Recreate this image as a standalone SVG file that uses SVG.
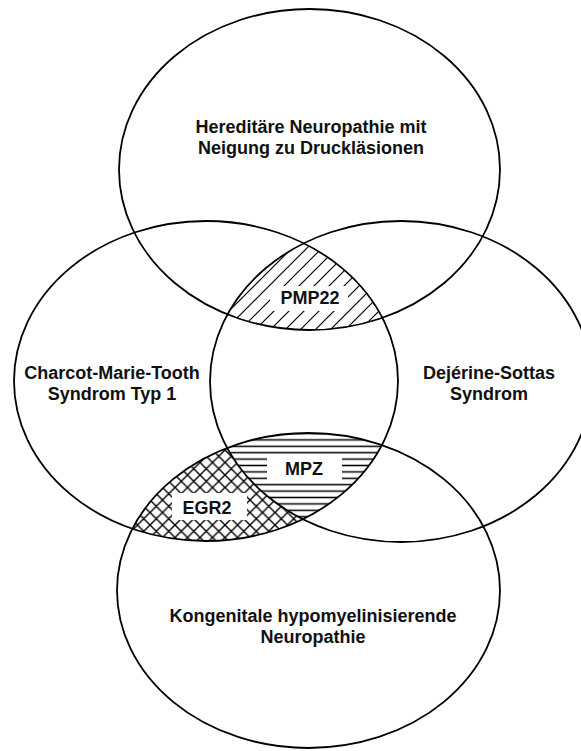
<svg xmlns="http://www.w3.org/2000/svg" width="581" height="751" viewBox="0 0 581 751">
<style>
.ring{fill:none;stroke:#000;stroke-width:1.8}
.lbl{font-family:"Liberation Sans",Arial,Helvetica,sans-serif;font-weight:bold;font-size:18px;fill:#111;text-anchor:middle}
.knock{fill:#fff;stroke:none}
</style>
<defs>
<clipPath id="cTop"><ellipse cx="309.5" cy="169.5" rx="190.5" ry="160.5"/></clipPath>
<clipPath id="cLeft"><ellipse cx="206" cy="381" rx="192" ry="160"/></clipPath>
<clipPath id="cRight"><ellipse cx="401" cy="381.5" rx="191" ry="160.5"/></clipPath>
<clipPath id="cBottom"><ellipse cx="308.5" cy="590.5" rx="191.5" ry="157.5"/></clipPath>
<mask id="mNotRight" maskUnits="userSpaceOnUse" x="0" y="0" width="581" height="751">
<rect x="0" y="0" width="581" height="751" fill="#fff"/>
<ellipse cx="401" cy="381.5" rx="191" ry="160.5" fill="#000"/>
</mask>
<pattern id="pDiag" patternUnits="userSpaceOnUse" x="0" y="0" width="15" height="15">
<path d="M-2,2 L2,-2 M0,15 L15,0 M13,17 L17,13" stroke="#000" stroke-width="1.2" fill="none"/>
</pattern>
<pattern id="pHoriz" patternUnits="userSpaceOnUse" x="0" y="449.5" width="20" height="6.4">
<path d="M-1,3.2 H21" stroke="#000" stroke-width="1.5" fill="none"/>
</pattern>
<pattern id="pCross" patternUnits="userSpaceOnUse" x="0" y="0" width="12.5" height="12.5">
<path d="M-2,2 L2,-2 M0,12.5 L12.5,0 M10.5,14.5 L14.5,10.5 M-2,10.5 L2,14.5 M0,0 L12.5,12.5 M10.5,-2 L14.5,2" stroke="#000" stroke-width="1.4" fill="none"/>
</pattern>
</defs>

<g id="pmp22">
<g clip-path="url(#cTop)"><g clip-path="url(#cLeft)">
<rect x="200" y="220" width="210" height="120" fill="url(#pDiag)" clip-path="url(#cRight)"/>
</g></g>
<rect class="knock" x="270" y="286" width="78" height="25"/>
<text class="lbl" x="310" y="304">PMP22</text>
</g>

<g id="mpz">
<g clip-path="url(#cLeft)"><g clip-path="url(#cBottom)">
<rect x="210" y="420" width="200" height="120" fill="url(#pHoriz)" clip-path="url(#cRight)"/>
</g></g>
<rect class="knock" x="267" y="455.5" width="75" height="25"/>
<text class="lbl" x="304" y="475">MPZ</text>
</g>

<g id="egr2">
<g clip-path="url(#cLeft)"><g clip-path="url(#cBottom)">
<rect x="110" y="420" width="220" height="130" fill="url(#pCross)" mask="url(#mNotRight)"/>
</g></g>
<rect class="knock" x="172" y="493" width="75" height="27"/>
<text class="lbl" x="207" y="514">EGR2</text>
</g>

<g id="hnpp">
<ellipse class="ring" cx="309.5" cy="169.5" rx="190.5" ry="160.5"/>
<text class="lbl" x="311" y="133">Hereditäre Neuropathie mit</text>
<text class="lbl" x="311" y="154">Neigung zu Druckläsionen</text>
</g>

<g id="cmt1">
<ellipse class="ring" cx="206" cy="381" rx="192" ry="160"/>
<text class="lbl" x="112" y="379">Charcot-Marie-Tooth</text>
<text class="lbl" x="112" y="400">Syndrom Typ 1</text>
</g>

<g id="dss">
<ellipse class="ring" cx="401" cy="381.5" rx="191" ry="160.5"/>
<text class="lbl" x="489" y="379">Dejérine-Sottas</text>
<text class="lbl" x="489" y="400">Syndrom</text>
</g>

<g id="chn">
<ellipse class="ring" cx="308.5" cy="590.5" rx="191.5" ry="157.5"/>
<text class="lbl" x="313" y="622">Kongenitale hypomyelinisierende</text>
<text class="lbl" x="313" y="643">Neuropathie</text>
</g>
</svg>
